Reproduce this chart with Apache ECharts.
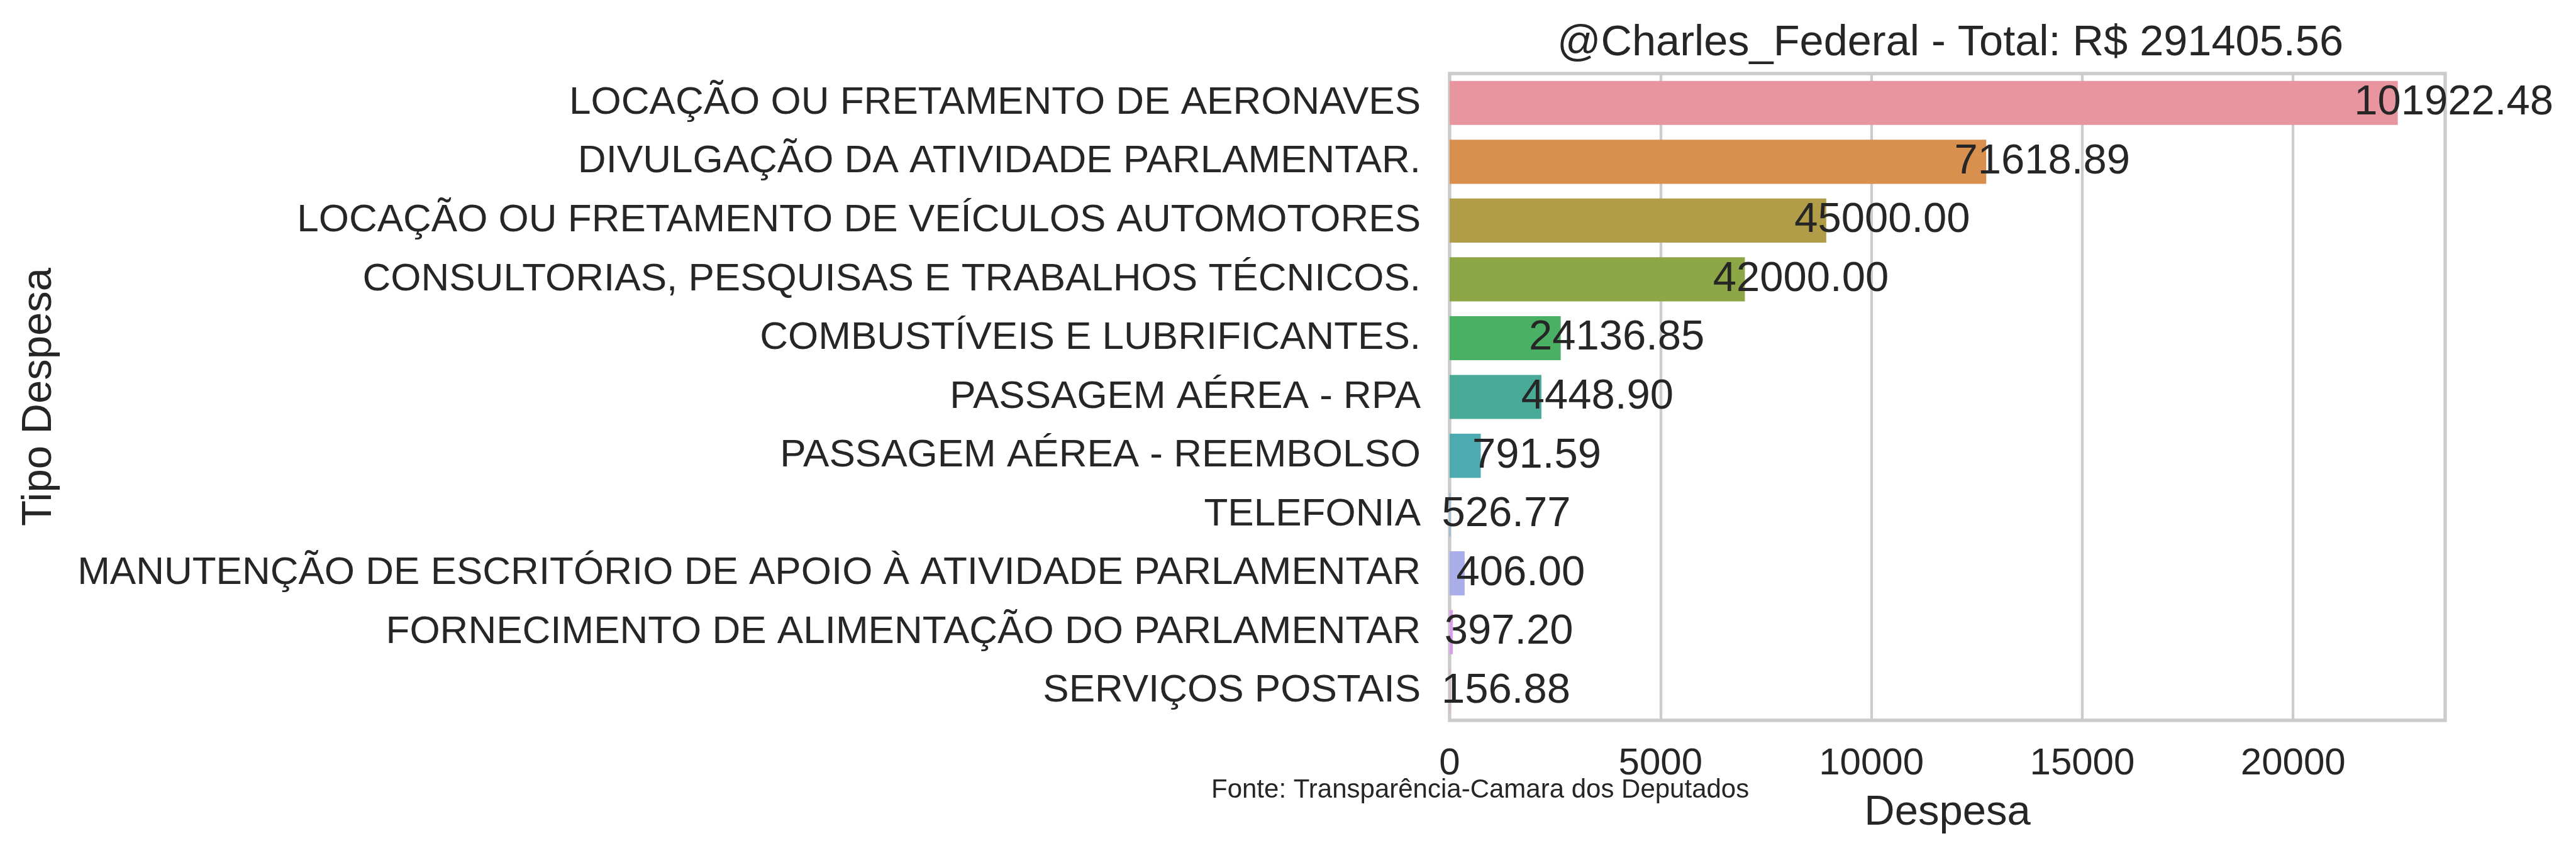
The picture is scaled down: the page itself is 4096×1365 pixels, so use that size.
<!DOCTYPE html>
<html>
<head>
<meta charset="utf-8">
<script src="https://cdn.jsdelivr.net/npm/echarts@6/dist/echarts.min.js"></script>
<style>
html,body{margin:0;padding:0;background:#fff;}
#chart{width:4096px;height:1365px;}
</style>
</head>
<body>
<div id="chart"></div>
<script>
// ---- data ----
const categories = [
  'LOCAÇÃO OU FRETAMENTO DE AERONAVES',
  'DIVULGAÇÃO DA ATIVIDADE PARLAMENTAR.',
  'LOCAÇÃO OU FRETAMENTO DE VEÍCULOS AUTOMOTORES',
  'CONSULTORIAS, PESQUISAS E TRABALHOS TÉCNICOS.',
  'COMBUSTÍVEIS E LUBRIFICANTES.',
  'PASSAGEM AÉREA - RPA',
  'PASSAGEM AÉREA - REEMBOLSO',
  'TELEFONIA',
  'MANUTENÇÃO DE ESCRITÓRIO DE APOIO À ATIVIDADE PARLAMENTAR',
  'FORNECIMENTO DE ALIMENTAÇÃO DO PARLAMENTAR',
  'SERVIÇOS POSTAIS'
];
// bar lengths (as drawn)
const barValues = [22481, 12723, 8930, 7000, 2634, 2176, 738, 15, 356, 76, 8];
// text labels (totals) printed next to bars
const totalLabels = ['101922.48', '71618.89', '45000.00', '42000.00', '24136.85', '4448.90', '791.59', '526.77', '406.00', '397.20', '156.88'];
const xTicks = [0, 5000, 10000, 15000, 20000];
const titleText = '@Charles_Federal - Total: R$ 291405.56';
const sourceText = 'Fonte: Transparência-Camara dos Deputados';

const palette = ['#e8959f', '#d9904f', '#b19c47', '#8da646', '#4ab064', '#49ab97', '#4caab0', '#65a6d9', '#a9aeea', '#d99de9', '#e895cc'];

const FONT = "'Liberation Sans', Arial, Helvetica, sans-serif";
const TXT = '#262626';

const chart = echarts.init(document.getElementById('chart'), null, {renderer: 'canvas'});
const option = {
  animation: false,
  backgroundColor: '#ffffff',
  textStyle: {fontFamily: FONT, color: TXT},
  title: {
    text: titleText,
    left: 3096, top: 30, textAlign: 'center',
    textStyle: {fontFamily: FONT, fontSize: 68.5, fontWeight: 'normal', color: TXT}
  },
  grid: {
    left: 2305, right: 208, top: 117, bottom: 219,
    show: true, borderColor: '#cccccc', borderWidth: 5.4, backgroundColor: 'transparent'
  },
  xAxis: {
    type: 'value', min: 0, max: 23605, interval: 5000,
    name: 'Despesa', nameLocation: 'middle', nameGap: 114,
    nameTextStyle: {fontFamily: FONT, fontSize: 67, color: TXT},
    axisLine: {show: false}, axisTick: {show: false},
    axisLabel: {
      fontFamily: FONT, fontSize: 60, color: TXT, margin: 39,
      showMaxLabel: false,
      formatter: v => (xTicks.indexOf(v) >= 0 ? String(v) : '')
    },
    splitLine: {show: true, lineStyle: {color: '#cccccc', width: 4.3}}
  },
  yAxis: {
    type: 'category', data: categories, inverse: true,
    name: 'Tipo Despesa', nameLocation: 'middle', nameRotate: 90, nameGap: 2209,
    nameTextStyle: {fontFamily: FONT, fontSize: 67, color: TXT},
    axisLine: {show: false}, axisTick: {show: false},
    axisLabel: {fontFamily: FONT, fontSize: 62, color: TXT, margin: 46},
    splitLine: {show: false}
  },
  series: [{
    type: 'bar',
    data: barValues.map((v, i) => ({value: v, itemStyle: {color: palette[i]}})),
    barWidth: '75%',
    label: {
      show: true, position: 'right', distance: 89, align: 'center',
      fontFamily: FONT, fontSize: 67, color: TXT,
      formatter: p => totalLabels[p.dataIndex]
    }
  }],
  graphic: [{
    type: 'text', left: 1926, top: 1236,
    style: {text: sourceText, font: '42px ' + FONT, fill: TXT}
  }]
};
chart.setOption(option);
</script>
</body>
</html>
